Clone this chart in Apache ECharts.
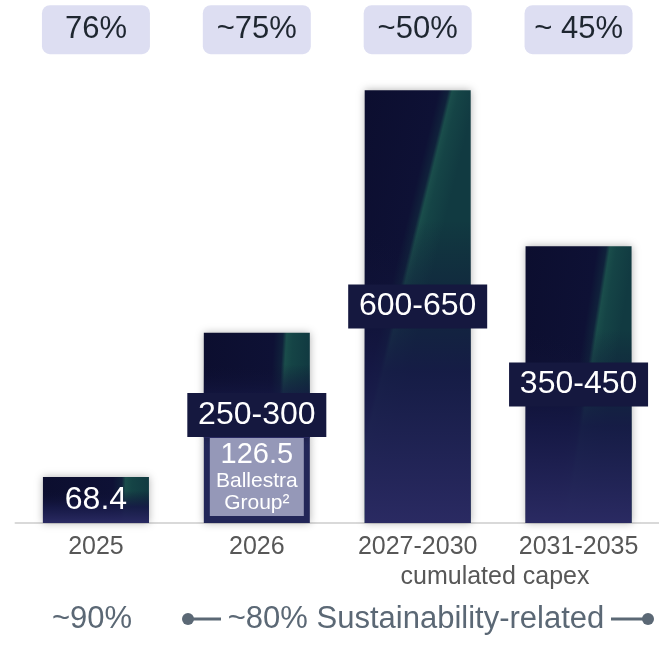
<!DOCTYPE html>
<html>
<head>
<meta charset="utf-8">
<script src="https://cdn.jsdelivr.net/npm/echarts@6/dist/echarts.min.js"></script>
<style>
  html, body { margin: 0; padding: 0; background: #fff; }
  #chart { width: 659px; height: 650px; }
</style>
</head>
<body>
<div id="chart"></div>
<script>
// values
const categories = ['2025', '2026', '2027-2030', '2031-2035'];
const shareLabels = ['76%', '~75%', '~50%', '~ 45%'];
const totalValues = [68.4, 283, 644, 412];      // bar heights
const ballestraValues = [0, 126.5, 0, 0];       // lighter part of 2026
const rangeLabels = ['68.4', '250-300', '600-650', '350-450'];

const font = 'Liberation Sans';
const slate = '#5b6875';

const restValues = totalValues.map((v, i) => +(v - ballestraValues[i]).toFixed(1));

// navy fill with a teal streak on the right
const baseFill = new echarts.graphic.LinearGradient(0, 0, 1, 0.06, [
  { offset: 0, color: '#0c0e2f' },
  { offset: 0.66, color: '#0e1135' },
  { offset: 0.745, color: '#10213b' },
  { offset: 0.78, color: '#1a4d4b' },
  { offset: 0.84, color: '#154446' },
  { offset: 1, color: '#113a41' }
]);
// darkens towards a purple navy at the bottom
const shadeFill = new echarts.graphic.LinearGradient(0, 0, 0, 1, [
  { offset: 0, color: 'rgba(14,16,50,0)' },
  { offset: 0.3, color: 'rgba(14,16,50,0)' },
  { offset: 0.65, color: 'rgba(22,25,70,0.9)' },
  { offset: 1, color: 'rgba(42,42,98,1)' }
]);

const chart = echarts.init(document.getElementById('chart'));

chart.setOption({
  animation: false,
  grid: { left: 15.5, right: 0, top: 86.2, bottom: 127 },
  xAxis: [
    {
      type: 'category',
      data: categories,
      axisLine: { lineStyle: { color: '#d9d9d9', width: 2 } },
      axisTick: { show: false },
      axisLabel: { color: '#575757', fontSize: 25, fontFamily: font, margin: 12 }
    },
    {
      type: 'category',
      position: 'top',
      data: shareLabels,
      axisLine: { show: false },
      axisTick: { show: false },
      axisLabel: {
        color: '#1e2630', fontSize: 31, fontFamily: font, margin: 32,
        backgroundColor: '#dddef2', borderRadius: 8,
        width: 92, lineHeight: 31, padding: [9, 8], align: 'center'
      }
    }
  ],
  yAxis: { type: 'value', min: 0, max: 650, show: false },
  series: [
    {
      name: 'ballestra',
      type: 'bar',
      stack: 'base',
      barWidth: 106,
      barGap: '-100%',
      data: ballestraValues.map(v => v || '-'),
      itemStyle: { color: '#222658', shadowBlur: 8, shadowColor: 'rgba(0,0,0,0.3)' }
    },
    {
      name: 'capex',
      type: 'bar',
      stack: 'base',
      barWidth: 106,
      barGap: '-100%',
      data: restValues,
      itemStyle: { color: baseFill, shadowBlur: 8, shadowColor: 'rgba(0,0,0,0.3)' }
    },
    {
      name: 'spacer',
      type: 'bar',
      stack: 'shade',
      barWidth: 106,
      barGap: '-100%',
      silent: true,
      data: ballestraValues.map(v => v || '-'),
      itemStyle: { color: 'rgba(0,0,0,0)' },
      label: {
        show: true,
        position: 'insideTop',
        distance: 0,
        formatter: '{a|{c}}\n{b|Ballestra}\n{b|Group²}',
        backgroundColor: '#9598b8',
        width: 94,
        padding: [2, 0, 2, 0],
        align: 'center',
        rich: {
          a: { color: '#fff', fontSize: 29, lineHeight: 30, fontFamily: font, align: 'center' },
          b: { color: '#fff', fontSize: 21, lineHeight: 22, fontFamily: font, align: 'center' }
        }
      }
    },
    {
      name: 'shade',
      type: 'bar',
      stack: 'shade',
      barWidth: 106,
      barGap: '-100%',
      silent: true,
      itemStyle: { color: shadeFill },
      data: restValues.map((v, i) => ({
        value: v,
        label: i === 0
          ? { position: 'inside', backgroundColor: 'transparent' }
          : (i === 1 ? { position: 'insideBottom', distance: 1 } : { position: 'inside' })
      })),
      label: {
        show: true,
        formatter: p => rangeLabels[p.dataIndex],
        color: '#fff',
        fontSize: 32,
        fontFamily: font,
        backgroundColor: '#15183f',
        width: 123,
        lineHeight: 32,
        padding: [6, 8],
        align: 'center'
      }
    }
  ],
  graphic: [
    {
      type: 'text',
      x: 495, y: 577,
      style: { text: 'cumulated capex', fill: '#575757', fontSize: 25, fontFamily: font, align: 'center', verticalAlign: 'middle' }
    },
    {
      type: 'text',
      x: 92, y: 619,
      style: { text: '~90%', fill: slate, fontSize: 31, fontFamily: font, align: 'center', verticalAlign: 'middle' }
    },
    { type: 'circle', shape: { cx: 188, cy: 619, r: 6 }, style: { fill: slate } },
    { type: 'line', shape: { x1: 188, y1: 619, x2: 221, y2: 619 }, style: { stroke: slate, lineWidth: 3 } },
    {
      type: 'text',
      x: 416, y: 619,
      style: { text: '~80% Sustainability-related', fill: slate, fontSize: 31, fontFamily: font, align: 'center', verticalAlign: 'middle' }
    },
    { type: 'line', shape: { x1: 611, y1: 619, x2: 648, y2: 619 }, style: { stroke: slate, lineWidth: 3 } },
    { type: 'circle', shape: { cx: 648, cy: 619, r: 6 }, style: { fill: slate } }
  ]
});
</script>
</body>
</html>
